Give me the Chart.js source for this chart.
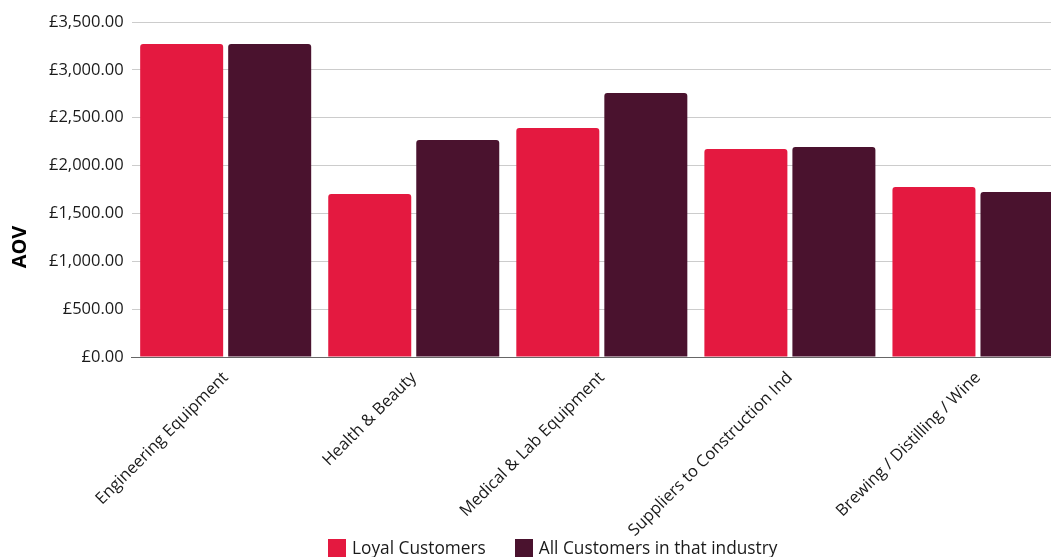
<!DOCTYPE html>
<html>
<head>
<meta charset="utf-8">
<script src="https://cdn.jsdelivr.net/npm/chart.js@4.4.0/dist/chart.umd.min.js"></script>
<style>
    html, body { margin: 0; padding: 0; background: #ffffff; overflow: hidden; }
    #wrap { position: relative; width: 1104px; height: 557px; }
    #legend {
        position: absolute; left: 328px; top: 539px;
        display: flex; align-items: center;
        font-family: 'Open Sans', sans-serif; font-size: 17.3px; color: #1a1a1a;
        line-height: 18px; white-space: nowrap;
    }
    #legend .item { display: flex; align-items: center; margin-right: 29px; }
    #legend .box { width: 18px; height: 18px; margin-right: 6px; }
</style>
</head>
<body>
<div id="wrap">
    <canvas id="myChart"></canvas>
    <div id="legend"></div>
</div>
<script>
// data
const industries = ['Engineering Equipment', 'Health & Beauty', 'Medical & Lab Equipment', 'Suppliers to Construction Ind', 'Brewing / Distilling / Wine'];
const loyalCustomers = [3270, 1703, 2393, 2173, 1776];
const allCustomers = [3270, 2267, 2758, 2194, 1724];
const seriesNames = ['Loyal Customers', 'All Customers in that industry'];
const seriesColors = ['#E41940', '#4A122E'];
const yAxisTitle = 'AOV';

const FONT = "'Open Sans', sans-serif";
const TEXT = '#1a1a1a';

// draws the axis title a bit lower than chart.js would centre it
const axisTitlePlugin = {
    id: 'axisTitle',
    afterDraw(chart) {
        const ctx = chart.ctx;
        ctx.save();
        ctx.translate(20, 247);
        ctx.rotate(-Math.PI / 2);
        ctx.font = "bold 20px " + FONT;
        ctx.fillStyle = '#000000';
        ctx.textAlign = 'center';
        ctx.textBaseline = 'middle';
        ctx.fillText(yAxisTitle, 0, 0);
        ctx.restore();
    }
};

const money = v => '£' + Number(v).toLocaleString('en-GB', { minimumFractionDigits: 2, maximumFractionDigits: 2 });

const myChart = new Chart(document.getElementById('myChart'), {
    type: 'bar',
    data: {
        labels: industries,
        datasets: [{
            label: seriesNames[0],
            data: loyalCustomers,
            backgroundColor: seriesColors[0],
            borderRadius: 3,
            categoryPercentage: 0.936,
            barPercentage: 0.943
        }, {
            label: seriesNames[1],
            data: allCustomers,
            backgroundColor: seriesColors[1],
            borderRadius: 3,
            categoryPercentage: 0.936,
            barPercentage: 0.943
        }]
    },
    options: {
        responsive: true,
        maintainAspectRatio: false,
        animation: false,
        layout: {
            padding: { left: 41, right: 32, top: 22, bottom: 0 }
        },
        plugins: {
            legend: { display: false },
            tooltip: { enabled: false }
        },
        scales: {
            x: {
                grid: { display: false },
                border: { color: '#666666' },
                afterFit: scale => { scale.height = 200; },
                ticks: {
                    minRotation: 45,
                    maxRotation: 45,
                    color: TEXT,
                    font: { family: FONT, size: 16.5 }
                }
            },
            y: {
                min: 0,
                max: 3500,
                grid: { color: '#cccccc', drawTicks: false },
                border: { display: false },
                ticks: {
                    stepSize: 500,
                    padding: 8,
                    color: TEXT,
                    font: { family: FONT, size: 16.5 },
                    callback: value => money(value)
                }
            }
        }
    },
    plugins: [axisTitlePlugin]
});

// html legend under the chart, built from the datasets
const legendBox = document.getElementById('legend');
myChart.data.datasets.forEach(ds => {
    const item = document.createElement('div');
    item.className = 'item';
    const box = document.createElement('span');
    box.className = 'box';
    box.style.background = ds.backgroundColor;
    const label = document.createElement('span');
    label.textContent = ds.label;
    item.appendChild(box);
    item.appendChild(label);
    legendBox.appendChild(item);
});
</script>
</body>
</html>
